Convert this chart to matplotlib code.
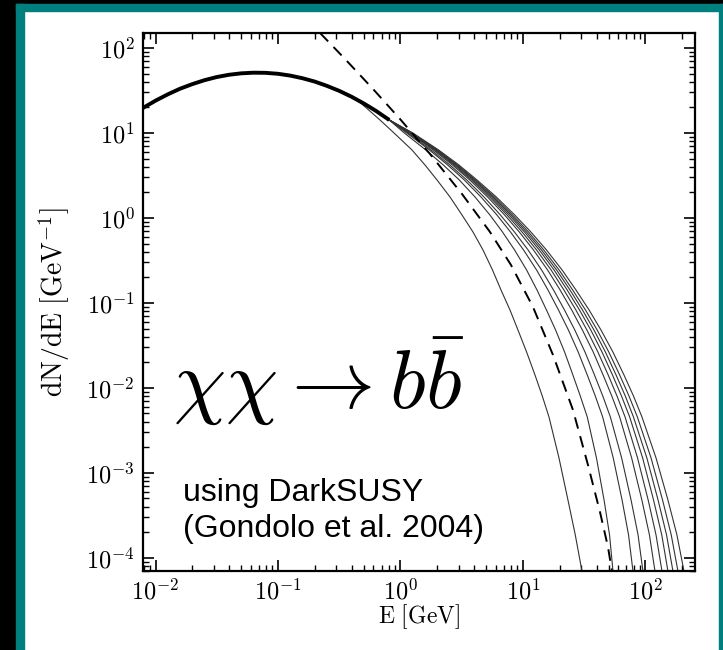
import numpy as np
import matplotlib.pyplot as plt
from matplotlib.patches import Rectangle
from matplotlib.ticker import LogLocator, FuncFormatter, NullFormatter

plt.rcParams['mathtext.fontset'] = 'cm'

# shared low-energy part of all the b-bbar spectra (E in GeV, dN/dE in 1/GeV)
E_common = [0.0079, 0.01, 0.0126, 0.0158, 0.02, 0.0251, 0.0316, 0.0398, 0.05,
            0.063, 0.079, 0.1, 0.126, 0.158, 0.2, 0.251, 0.316, 0.398]
dnde_common = [19.7, 24.0, 28.5, 33.1, 37.6, 41.8, 45.5, 48.4, 50.3,
               51.2, 51.0, 49.7, 47.3, 44.1, 40.2, 35.8, 31.3, 26.7]

# dN/dE levels at which the tail energies below were read
tail_levels = [22.3, 18.2, 14.22, 10.0, 6.31, 4.20, 2.80, 1.766, 1.085, 0.684,
               0.420, 0.2445, 0.1422, 0.0827, 0.0481, 0.02652, 0.01422,
               0.00805, 0.00456, 0.00150, 4.81e-4, 1.865e-4, 7e-5]

# energy of each solid curve at those levels (lowest mass first)
E_m1 = [0.476, 0.560, 0.680, 0.885, 1.241, 1.585, 1.986, 2.536, 3.177, 3.907, 4.716,
        5.636, 6.614, 7.83, 9.10, 10.70, 12.53, 14.37, 16.30, 19.68, 23.29, 26.73, 30.31]
E_m2 = [0.5, 0.63, 0.81, 1.074, 1.609, 2.236, 3.020, 4.057, 5.368, 6.803, 8.54,
        10.70, 13.01, 15.55, 18.46, 21.86, 25.55, 29.36, 33.49, 39.81, 45.92, 50.92, 54.30]
E_m3 = [0.5, 0.63, 0.81, 1.124, 1.722, 2.428, 3.317, 4.541, 6.123, 7.907, 10.11,
        12.91, 16.00, 19.49, 23.48, 28.22, 33.49, 38.92, 44.73, 54.58, 64.42, 72.78, 79.07]
E_m4 = [0.5, 0.63, 0.81, 1.149, 1.781, 2.531, 3.477, 4.804, 6.539, 8.52, 11.01,
        14.19, 17.74, 21.82, 26.48, 32.07, 38.34, 44.82, 51.70, 63.93, 76.29, 87.03, 95.41]
E_m5 = [0.5, 0.63, 0.81, 1.180, 1.856, 2.657, 3.679, 5.140, 7.076, 9.33, 12.18,
        15.88, 20.09, 24.98, 30.54, 37.42, 45.08, 53.08, 61.58, 77.15, 93.45, 107.8, 119.6]
E_m6 = [0.5, 0.63, 0.81, 1.200, 1.898, 2.739, 3.798, 5.349, 7.403, 9.83, 12.91,
        16.96, 21.58, 27.03, 33.24, 40.87, 49.61, 58.53, 68.16, 86.20, 105.2, 122.0, 136.4]
E_m7 = [0.5, 0.63, 0.81, 1.216, 1.938, 2.807, 3.907, 5.533, 7.700, 10.29, 13.59,
        17.94, 22.95, 28.92, 35.77, 44.15, 53.78, 63.70, 74.30, 94.87, 116.4, 135.9, 152.6]
E_m8 = [0.5, 0.63, 0.81, 1.230, 1.971, 2.865, 4.003, 5.690, 7.965, 10.68, 14.18,
        18.81, 24.19, 30.60, 37.98, 47.07, 57.54, 68.41, 79.80, 102.7, 126.7, 148.7, 167.7]
E_m9 = [0.5, 0.63, 0.81, 1.244, 2.004, 2.925, 4.095, 5.853, 8.225, 11.09, 14.78,
        19.71, 25.45, 32.37, 40.34, 50.16, 61.58, 73.35, 85.88, 111.1, 137.9, 162.4, 184.2]
E_m10 = [0.5, 0.63, 0.81, 1.260, 2.047, 2.998, 4.212, 6.053, 8.556, 11.60, 15.55,
         20.85, 27.08, 34.64, 43.33, 54.19, 66.76, 79.80, 93.62, 122.0, 152.6, 180.7, 206.3]

# dashed comparison spectrum
E_dash = [0.2203, 0.3523, 0.5964, 0.9906, 1.741, 3.177, 5.378, 7.980, 12.07,
          17.58, 25.59, 33.93, 42.53, 49.42, 53.28]
dnde_dash = [150.2, 74.25, 32.93, 14.61, 5.661, 1.916, 0.684, 0.280, 0.0897,
             0.02444, 0.00551, 0.001242, 3.477e-4, 1.347e-4, 7e-5]

fig = plt.figure(figsize=(7.23, 6.5), dpi=100)
fig.patch.set_facecolor('white')

# black / teal slide frame
teal = '#007f7f'
fig.add_artist(Rectangle((0, 0), 0.0221, 1, transform=fig.transFigure, color='black', zorder=0))
fig.add_artist(Rectangle((0, 0.9938), 1, 0.0062, transform=fig.transFigure, color='black', zorder=0))
fig.add_artist(Rectangle((0.0221, 0), 0.0111, 0.9938, transform=fig.transFigure, color=teal, zorder=0))
fig.add_artist(Rectangle((0.0221, 0.983), 0.9779, 0.0108, transform=fig.transFigure, color=teal, zorder=0))
fig.add_artist(Rectangle((0.9945, 0), 0.0055, 0.9938, transform=fig.transFigure, color=teal, zorder=0))

ax = fig.add_axes([0.1978, 0.1215, 0.7635, 0.8277])
ax.set_xscale('log')
ax.set_yscale('log')

for te in [E_m1, E_m2, E_m3, E_m4, E_m5, E_m6, E_m7, E_m8, E_m9, E_m10]:
    ax.plot(E_common + te, dnde_common + tail_levels, color='#333333', lw=0.8)
# the overlapping curves make a thick band at low energy
ax.plot(E_common + E_m10[:3], dnde_common + tail_levels[:3], color='black',
        lw=2.8, solid_capstyle='butt')

dash, = ax.plot(E_dash, dnde_dash, color='black', lw=1.4)
dash.set_dashes((6, 4))

ax.set_xlim(0.0079, 254)
ax.set_ylim(7e-5, 150)

fmt = FuncFormatter(lambda v, p: r'$10^{%d}$' % round(np.log10(v)))
for axis in (ax.xaxis, ax.yaxis):
    axis.set_major_locator(LogLocator(base=10, numticks=12))
    axis.set_minor_locator(LogLocator(base=10, subs=np.arange(2, 10), numticks=12))
    axis.set_major_formatter(fmt)
    axis.set_minor_formatter(NullFormatter())

ax.tick_params(which='both', direction='in', top=True, right=True)
ax.tick_params(which='major', length=8, width=1.2, labelsize=17.5, pad=6)
ax.tick_params(which='minor', length=4, width=1.0)
for s in ax.spines.values():
    s.set_linewidth(1.6)

ax.set_xlabel(r'$\mathrm{E\ [GeV]}$', fontsize=17, labelpad=-2)
ax.set_ylabel(r'$\mathrm{dN/dE\ [GeV^{-1}]}$', fontsize=20, labelpad=10)

ax.text(0.054, 0.303, r'$\chi\chi \rightarrow b\bar{b}$', transform=ax.transAxes,
        fontsize=60, ha='left', va='baseline')
ax.text(0.0725, 0.130, 'using DarkSUSY', transform=ax.transAxes,
        fontsize=23, family='Liberation Sans', ha='left', va='baseline')
ax.text(0.0725, 0.063, '(Gondolo et al. 2004)', transform=ax.transAxes,
        fontsize=23, family='Liberation Sans', ha='left', va='baseline')

fig.savefig('out.png', dpi=100)
